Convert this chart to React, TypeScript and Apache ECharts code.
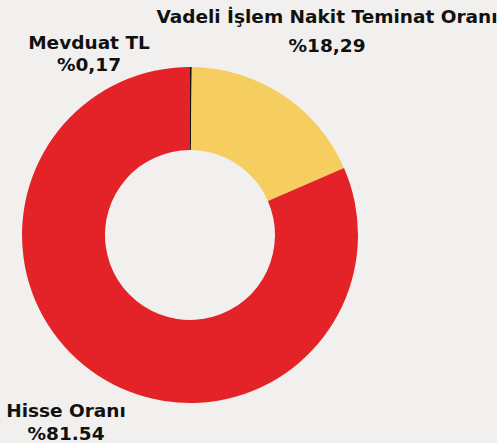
import React, { useEffect, useRef } from "react";
import * as echarts from "echarts";

const categories = ["Mevduat TL", "Vadeli İşlem Nakit Teminat Oranı", "Hisse Oranı"];
const values = [0.17, 18.29, 81.54];
const valueLabels = ["%0,17", "%18,29", "%81.54"];
const colors = ["#111111", "#f6ce5f", "#e42329"];

// label anchor positions (label centres) in px
const labelPos: [number, number][] = [
  [89, 53],
  [327, 31],
  [66, 422],
];
const labelLineHeights = [22, 29, 23];

export default function App() {
  const ref = useRef<HTMLDivElement>(null);
  useEffect(() => {
    if (!ref.current) return;
    const chart = echarts.init(ref.current, undefined, { renderer: "svg" });
    chart.setOption({
      animation: false,
      backgroundColor: "#f1f0ee",
      series: [
        {
          type: "pie",
          center: [190, 235],
          radius: [85, 168],
          startAngle: 90,
          clockwise: true,
          avoidLabelOverlap: false,
          data: categories.map((c, i) => ({
            name: c,
            value: values[i],
            itemStyle: { color: colors[i] },
            label: { lineHeight: labelLineHeights[i] },
          })),
          label: {
            show: true,
            position: "outside",
            formatter: (p: any) => `${p.name}\n${valueLabels[p.dataIndex]}`,
            fontFamily: "DejaVu Sans",
            fontWeight: "bold",
            fontSize: 18.5,
            color: "#111111",
            align: "center",
          },
          labelLine: { show: false },
          labelLayout: (p: any) => ({
            x: labelPos[p.dataIndex][0],
            y: labelPos[p.dataIndex][1],
            align: "center",
            verticalAlign: "middle",
          }),
          emphasis: { disabled: true },
        },
      ],
    });
    return () => chart.dispose();
  }, []);
  return (
    <div
      ref={ref}
      style={{ position: "fixed", left: 0, top: 0, width: 497, height: 443 }}
    />
  );
}
